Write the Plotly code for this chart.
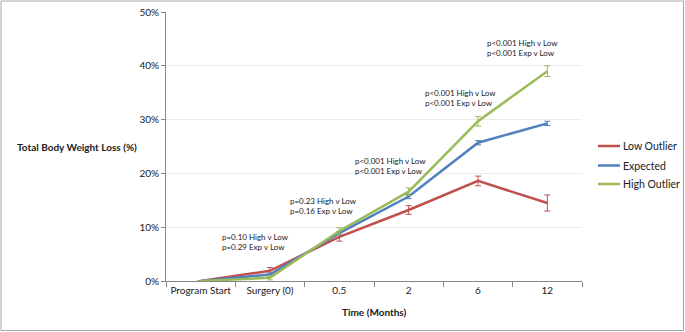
import plotly.graph_objects as go

categories = ["Program Start", "Surgery (0)", "0.5", "2", "6", "12"]
low_vals = [0, 1.9, 8.2, 13.2, 18.6, 14.5]
low_err = [0, 0.6, 0.8, 0.8, 0.9, 1.5]
exp_vals = [0, 1.2, 8.9, 15.7, 25.7, 29.3]
exp_err = [0, 0.3, 0.3, 0.4, 0.4, 0.4]
high_vals = [0, 0.6, 9.3, 16.6, 29.7, 39.0]
high_err = [0, 0.4, 0.6, 0.7, 0.9, 1.0]
series_names = ["Low Outlier", "Expected", "High Outlier"]
colors = ["#C0504D", "#4F81BD", "#9BBB59"]
pvalue_texts = [
    "p=0.10 High v Low<br>p=0.29 Exp v Low",
    "p=0.23 High v Low<br>p=0.16 Exp v Low",
    "p<0.001 High v Low<br>p<0.001 Exp v Low",
    "p<0.001 High v Low<br>p<0.001 Exp v Low",
    "p<0.001 High v Low<br>p<0.001 Exp v Low",
]
y_ticks = [0, 10, 20, 30, 40, 50]
y_ticktext = ["0%", "10%", "20%", "30%", "40%", "50%"]

W, H = 685, 332
ML, MR, MT, MB = 166, 103, 12, 51
PW, PH = W - ML - MR, H - MT - MB
FONT = "Lato, Liberation Sans, sans-serif"


def px(xp):
    return (xp - ML) / PW


def py(yp):
    return (H - MB - yp) / PH


fig = go.Figure()
for name, vals, err, col in zip(series_names, [low_vals, exp_vals, high_vals],
                                [low_err, exp_err, high_err], colors):
    fig.add_trace(go.Scatter(
        x=categories, y=vals, mode="lines", name=name, showlegend=False,
        line=dict(color=col, width=2.5),
        error_y=dict(type="data", array=err, visible=True, color=col,
                     thickness=1, width=3),
    ))

# legend drawn as short line samples plus labels
legend_y = [146, 165.5, 184]
for name, col, ly in zip(series_names, colors, legend_y):
    fig.add_shape(type="line", xref="paper", yref="paper",
                  x0=px(598), x1=px(620), y0=py(ly), y1=py(ly),
                  line=dict(color=col, width=2.5))
    fig.add_annotation(x=px(621), y=py(ly), xref="paper", yref="paper", text=name,
                       showarrow=False, xanchor="left", yanchor="middle",
                       font=dict(family=FONT, size=10.5, color="#202020"))

# annotation positions (x in category index units, y in data units)
ann_pos = [(0.28, 7.2), (1.26, 14.0), (2.2, 21.4), (3.21, 34.1), (4.1, 43.3)]
for (ax, ay), txt in zip(ann_pos, pvalue_texts):
    fig.add_annotation(x=ax, y=ay, xref="x", yref="y", text=txt, showarrow=False,
                       xanchor="left", yanchor="middle", align="left",
                       font=dict(family=FONT, size=8, color="#202020"))

fig.add_annotation(x=px(15), y=py(147), xref="paper", yref="paper",
                   text="<b>Total Body Weight Loss (%)</b>", showarrow=False,
                   xanchor="left", yanchor="middle",
                   font=dict(family=FONT, size=10, color="#202020"))
fig.add_annotation(x=px(374), y=py(312), xref="paper", yref="paper",
                   text="<b>Time (Months)</b>", showarrow=False,
                   xanchor="center", yanchor="middle",
                   font=dict(family=FONT, size=10, color="#202020"))

fig.add_shape(type="rect", xref="paper", yref="paper",
              x0=px(1), x1=px(683.5), y0=py(330.5), y1=py(1),
              line=dict(color="#a6a6a6", width=1))

fig.update_layout(
    width=W, height=H,
    margin=dict(l=ML, r=MR, t=MT, b=MB, autoexpand=False),
    paper_bgcolor="white", plot_bgcolor="white",
    font=dict(family=FONT, size=10, color="#202020"),
    showlegend=False,
    xaxis=dict(type="category", showgrid=False, showline=True, linecolor="#868686",
               linewidth=1, ticks="outside", tickson="boundaries", ticklen=5,
               tickcolor="#868686", tickfont=dict(size=10), range=[-0.5, 5.5],
               tickangle=0, automargin=False),
    yaxis=dict(range=[0, 50], tickmode="array", tickvals=y_ticks, ticktext=y_ticktext,
               showgrid=True, automargin=False,
               gridcolor="#ebebeb", gridwidth=1, showline=True, linecolor="#868686",
               ticks="outside", ticklen=4, tickcolor="#868686", zeroline=False,
               tickfont=dict(size=10)),
)

fig.write_html("out.html", config={"displayModeBar": False},
               post_script="document.body.style.margin='0';document.body.style.overflow='hidden';")
